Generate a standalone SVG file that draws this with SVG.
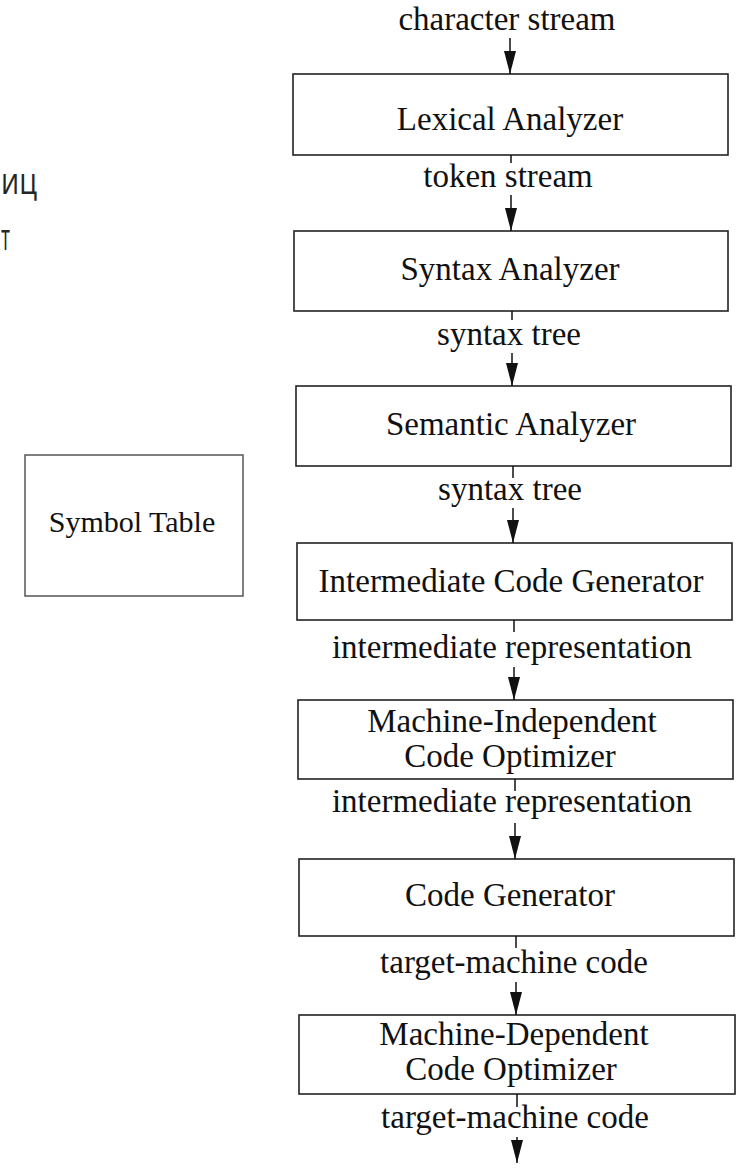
<svg xmlns="http://www.w3.org/2000/svg" width="741" height="1171" viewBox="0 0 741 1171">
<style>
.box{fill:#fff;stroke:#222;stroke-width:1.6}
.sym{fill:#fff;stroke:#555;stroke-width:1.5}
.t{font-family:"Liberation Serif","Times New Roman",serif;font-size:33px;fill:#111;text-anchor:middle}
.ts{font-family:"Liberation Serif","Times New Roman",serif;font-size:30px;fill:#111;text-anchor:middle}
.cut{font-family:"Open Sans","Noto Sans",sans-serif;font-size:36px;fill:#262626;text-anchor:start}
.ln{stroke:#111;stroke-width:1.5;fill:none}
.ar{stroke:#111;stroke-width:1.5;fill:none;marker-end:url(#ah)}
</style>
<defs>
<marker id="ah" markerUnits="userSpaceOnUse" markerWidth="23" markerHeight="12" viewBox="0 0 23 12" refX="23" refY="6" orient="auto">
<path d="M0,0 L23,6 L0,12 z" fill="#111"/>
</marker>
</defs>
<rect width="741" height="1171" fill="#fff"/>
<g id="cut-text">
<text class="cut" x="1" y="194" textLength="36" lengthAdjust="spacingAndGlyphs">иц</text>
<text class="cut" x="1" y="250" textLength="9" lengthAdjust="spacingAndGlyphs">т</text>
</g>
<g id="symbol-table">
<rect class="sym" x="25" y="455" width="218" height="141"/>
<text class="ts" x="132" y="532">Symbol Table</text>
</g>
<g id="lexical-analyzer">
<rect class="box" x="293" y="74" width="435" height="81"/>
<text class="t" x="510" y="130">Lexical Analyzer</text>
</g>
<g id="syntax-analyzer">
<rect class="box" x="294" y="231" width="434" height="80"/>
<text class="t" x="510" y="280">Syntax Analyzer</text>
</g>
<g id="semantic-analyzer">
<rect class="box" x="296" y="386" width="435" height="80"/>
<text class="t" x="511" y="435">Semantic Analyzer</text>
</g>
<g id="intermediate-code-generator">
<rect class="box" x="297" y="543" width="435" height="77"/>
<text class="t" x="511" y="592">Intermediate Code Generator</text>
</g>
<g id="machine-independent-optimizer">
<rect class="box" x="298" y="700" width="435" height="79"/>
<text class="t" x="512" y="732">Machine-Independent</text>
<text class="t" x="510" y="767">Code Optimizer</text>
</g>
<g id="code-generator">
<rect class="box" x="299" y="859" width="435" height="77"/>
<text class="t" x="510" y="906">Code Generator</text>
</g>
<g id="machine-dependent-optimizer">
<rect class="box" x="299" y="1015" width="436" height="79"/>
<text class="t" x="514" y="1045">Machine-Dependent</text>
<text class="t" x="511" y="1080">Code Optimizer</text>
</g>
<g id="connectors">
<text class="t" x="507" y="30">character stream</text>
<line class="ar" x1="510" y1="38" x2="510" y2="74"/>
<line class="ln" x1="511" y1="155" x2="511" y2="163"/>
<text class="t" x="508" y="187">token stream</text>
<line class="ar" x1="511" y1="195" x2="511" y2="231"/>
<line class="ln" x1="512" y1="311" x2="512" y2="320"/>
<text class="t" x="509" y="345">syntax tree</text>
<line class="ar" x1="512" y1="353" x2="512" y2="386"/>
<line class="ln" x1="513" y1="466" x2="513" y2="478"/>
<text class="t" x="510" y="500">syntax tree</text>
<line class="ar" x1="513" y1="508" x2="513" y2="543"/>
<line class="ln" x1="514" y1="620" x2="514" y2="632"/>
<text class="t" x="512" y="658">intermediate representation</text>
<line class="ar" x1="514" y1="667" x2="514" y2="700"/>
<line class="ln" x1="515" y1="779" x2="515" y2="791"/>
<text class="t" x="512" y="812">intermediate representation</text>
<line class="ar" x1="515" y1="823" x2="515" y2="859"/>
<line class="ln" x1="516" y1="936" x2="516" y2="948"/>
<text class="t" x="514" y="973">target-machine code</text>
<line class="ar" x1="516" y1="982" x2="516" y2="1015"/>
<line class="ln" x1="517" y1="1094" x2="517" y2="1107"/>
<text class="t" x="515" y="1128">target-machine code</text>
<line class="ar" x1="517" y1="1137" x2="517" y2="1163"/>
</g>
</svg>
